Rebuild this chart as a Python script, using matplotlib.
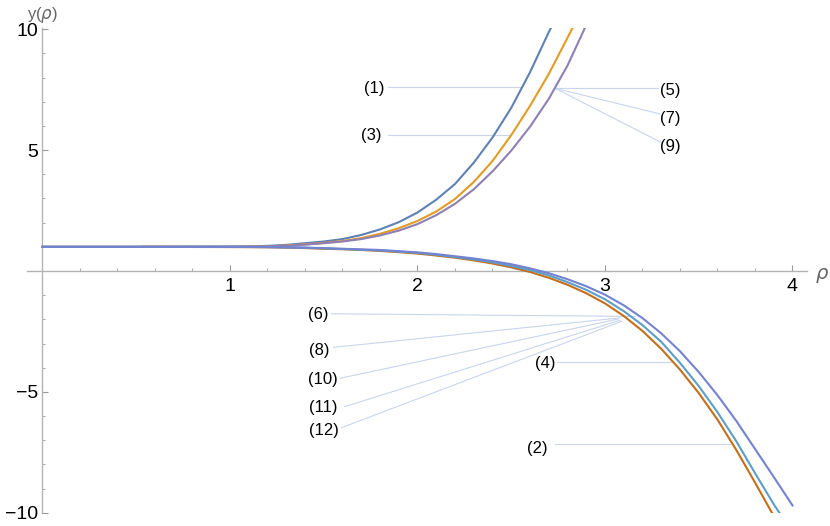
import matplotlib.pyplot as plt
from matplotlib.ticker import MultipleLocator, FixedLocator

plt.rcParams['font.family'] = ['Liberation Sans', 'DejaVu Sans']

# curves (rho, y)
rho_1 = [0.0, 0.5, 1.0, 1.1, 1.2, 1.3, 1.4, 1.5, 1.6, 1.7, 1.8, 1.9,
         2.0, 2.1, 2.2, 2.3, 2.4, 2.5, 2.6, 2.7, 2.712]
y_1 = [1.0, 1.0, 1.01, 1.02, 1.04, 1.08, 1.15, 1.22, 1.32, 1.49, 1.72, 2.02,
       2.42, 2.95, 3.60, 4.48, 5.52, 6.75, 8.22, 9.88, 10.06]

rho_3 = [0.54, 1.0, 1.2, 1.3, 1.4, 1.5, 1.6, 1.7, 1.8, 1.9,
         2.0, 2.1, 2.2, 2.3, 2.4, 2.5, 2.6, 2.7, 2.8, 2.827]
y_3 = [1.0, 1.0, 1.02, 1.05, 1.10, 1.16, 1.24, 1.36, 1.54, 1.77,
       2.07, 2.46, 2.98, 3.68, 4.55, 5.62, 6.83, 8.15, 9.65, 10.06]

rho_5 = [0.54, 1.0, 1.2, 1.3, 1.4, 1.5, 1.6, 1.7, 1.8, 1.9,
         2.0, 2.1, 2.2, 2.3, 2.4, 2.5, 2.6, 2.7, 2.8, 2.893]
y_5 = [1.0, 1.0, 1.02, 1.04, 1.09, 1.15, 1.22, 1.32, 1.47, 1.67,
       1.94, 2.31, 2.78, 3.38, 4.12, 4.98, 5.97, 7.12, 8.50, 10.06]

rho_2 = [0.0, 0.5, 1.0, 1.2, 1.4, 1.5, 1.6, 1.7, 1.8, 1.9, 2.0, 2.1, 2.2, 2.3, 2.4,
         2.5, 2.6, 2.7, 2.8, 2.9, 3.0, 3.1, 3.2, 3.3, 3.4, 3.5, 3.6, 3.7, 3.8, 3.89]
y_2 = [1.0, 1.0, 0.99, 0.98, 0.95, 0.92, 0.90, 0.87, 0.83, 0.78, 0.72, 0.64, 0.55, 0.44, 0.31,
       0.15, -0.04, -0.28, -0.57, -0.92, -1.34, -1.86, -2.48, -3.22, -4.08, -5.05, -6.15,
       -7.40, -8.75, -10.0]

rho_4 = [0.0, 0.5, 1.0, 1.2, 1.4, 1.6, 1.8, 2.0, 2.1, 2.2, 2.3, 2.4, 2.5, 2.6, 2.7,
         2.8, 2.9, 3.0, 3.1, 3.2, 3.3, 3.4, 3.5, 3.6, 3.7, 3.8, 3.9, 3.93]
y_4 = [1.0, 1.0, 1.0, 0.99, 0.96, 0.91, 0.85, 0.75, 0.67, 0.58, 0.48, 0.36, 0.21, 0.04, -0.18,
       -0.46, -0.78, -1.17, -1.66, -2.24, -2.93, -3.80, -4.76, -5.84, -7.04, -8.36, -9.65, -10.0]

rho_6 = [0.0, 0.5, 1.0, 1.2, 1.4, 1.6, 1.8, 2.0, 2.1, 2.2, 2.3, 2.4, 2.5, 2.6, 2.7,
         2.8, 2.9, 3.0, 3.1, 3.2, 3.3, 3.4, 3.5, 3.6, 3.7, 3.8, 3.9, 4.0]
y_6 = [1.0, 1.0, 1.0, 0.99, 0.97, 0.92, 0.87, 0.77, 0.70, 0.61, 0.52, 0.41, 0.28, 0.11, -0.09,
       -0.34, -0.63, -0.98, -1.42, -1.95, -2.58, -3.32, -4.18, -5.14, -6.20, -7.36, -8.52, -9.70]

# callouts: label, label position, line start, anchor on curve
callout_labels = ['(1)', '(3)', '(5)', '(7)', '(9)',
                  '(6)', '(8)', '(10)', '(11)', '(12)', '(4)', '(2)']
label_xy = [(1.768, 7.57), (1.752, 5.61), (3.347, 7.46), (3.349, 6.32), (3.349, 5.14),
            (1.471, -1.79), (1.476, -3.30), (1.498, -4.48), (1.498, -5.66), (1.501, -6.58),
            (2.680, -3.82), (2.639, -7.36)]
line_start = [(1.843, 7.60), (1.844, 5.61), (3.284, 7.56), (3.293, 6.50), (3.302, 5.31),
              (1.542, -1.77), (1.551, -3.16), (1.587, -4.44), (1.613, -5.61), (1.596, -6.48),
              (2.742, -3.75), (2.733, -7.16)]
anchor_xy = [(2.556, 7.60), (2.493, 5.61), (2.733, 7.56), (2.733, 7.56), (2.733, 7.56),
             (3.16, -1.88), (3.08, -1.94), (3.07, -1.99), (3.08, -2.04), (3.09, -2.08),
             (3.35, -3.75), (3.667, -7.16)]

fig = plt.figure(figsize=(8.3, 5.26), dpi=100)
ax = fig.add_axes([0.032, 0.0253, 0.9402, 0.9213])

# callout leader lines
for (x0, y0), (x1, y1) in zip(line_start, anchor_xy):
    ax.plot([x0, x1], [y0, y1], color='#c9d5ec', lw=0.8, zorder=1)
for text, (x, y) in zip(callout_labels, label_xy):
    ax.text(x, y, text, fontsize=12, ha='center', va='center')

ax.plot(rho_1, y_1, color='#5e81b5', lw=1.5, zorder=3)
ax.plot(rho_3, y_3, color='#e19c24', lw=1.5, zorder=3)
ax.plot(rho_5, y_5, color='#8f7fb5', lw=1.5, zorder=3)
ax.plot(rho_2, y_2, color='#c56e1a', lw=1.5, zorder=3)
ax.plot(rho_4, y_4, color='#5d9ec7', lw=1.5, zorder=3)
ax.plot(rho_6, y_6, color='#7482d2', lw=1.5, zorder=3)

ax.set_xlim(-0.085, 4.077)
ax.set_ylim(-10.0, 10.05)

# axes through the origin, Mathematica style
for side in ['top', 'right']:
    ax.spines[side].set_visible(False)
ax.spines['left'].set_position(('data', 0))
ax.spines['bottom'].set_position(('data', 0))
for side in ['left', 'bottom']:
    ax.spines[side].set_color('#b3b3b3')
    ax.spines[side].set_linewidth(1.0)

ax.xaxis.set_major_locator(FixedLocator([1, 2, 3, 4]))
ax.xaxis.set_minor_locator(MultipleLocator(0.2))
ax.yaxis.set_major_locator(FixedLocator([-10, -5, 5, 10]))
ax.yaxis.set_minor_locator(MultipleLocator(1))
ax.set_yticklabels(['\u221210', '\u22125', '5', '10'])
ax.tick_params(which='both', direction='in', color='#999999', labelsize=14)
ax.tick_params(which='major', length=4, width=0.8)
ax.tick_params(which='minor', length=2.5, width=0.6)
ax.tick_params(axis='x', pad=5)
ax.tick_params(axis='y', pad=3)

ax.text(0.0, 10.6, r'y($\rho$)', fontsize=12, color='#666666',
        ha='center', va='center', clip_on=False)
ax.text(4.157, -0.2, r'$\rho$', fontsize=14, color='#666666',
        ha='center', va='center', clip_on=False)

fig.savefig('out.png', dpi=100)
